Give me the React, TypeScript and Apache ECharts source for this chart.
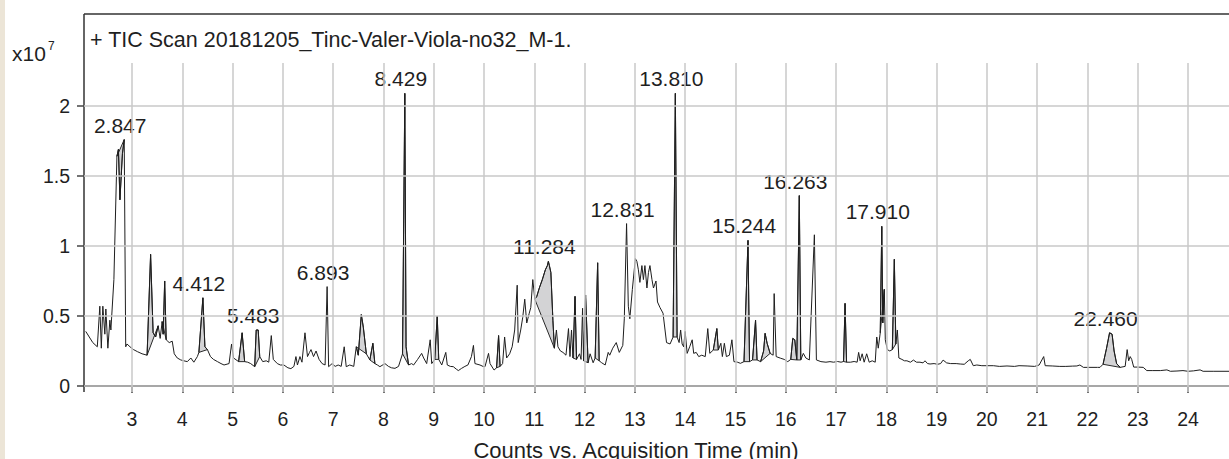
import React, { useEffect, useRef } from "react";
import * as echarts from "echarts";

// TIC trace: [acquisition time (min), counts (x10^7)]
const tic: [number, number][] = [
  [2.08, 0.39], [2.15, 0.35], [2.22, 0.31], [2.31, 0.28], [2.36, 0.57], [2.39, 0.27], [2.42, 0.57], [2.46, 0.37],
  [2.48, 0.55], [2.52, 0.27], [2.56, 0.47], [2.58, 0.40], [2.64, 0.76], [2.70, 1.64], [2.73, 1.69], [2.76, 1.33],
  [2.81, 1.66], [2.845, 1.76], [2.875, 0.28], [2.90, 0.30], [2.96, 0.28], [3.03, 0.26], [3.11, 0.245], [3.20, 0.23],
  [3.30, 0.22], [3.37, 0.94], [3.42, 0.38], [3.47, 0.35], [3.52, 0.43], [3.56, 0.34], [3.60, 0.46], [3.62, 0.37],
  [3.65, 0.75], [3.68, 0.33], [3.74, 0.31], [3.80, 0.32], [3.84, 0.23], [3.90, 0.20], [3.97, 0.186], [4.03, 0.18],
  [4.10, 0.174], [4.17, 0.20], [4.23, 0.17], [4.30, 0.21], [4.33, 0.24], [4.41, 0.63], [4.45, 0.28], [4.50, 0.26],
  [4.56, 0.21], [4.62, 0.19], [4.70, 0.174], [4.77, 0.16], [4.83, 0.15], [4.93, 0.16], [4.98, 0.30], [5.02, 0.20],
  [5.12, 0.174], [5.19, 0.38], [5.24, 0.174], [5.30, 0.17], [5.36, 0.16], [5.44, 0.138], [5.47, 0.40], [5.51, 0.40],
  [5.54, 0.21], [5.60, 0.174], [5.67, 0.18], [5.72, 0.17], [5.77, 0.36], [5.81, 0.19], [5.89, 0.16], [5.95, 0.15],
  [6.02, 0.15], [6.10, 0.13], [6.16, 0.124], [6.22, 0.14], [6.26, 0.21], [6.29, 0.15], [6.34, 0.21], [6.38, 0.17],
  [6.44, 0.38], [6.49, 0.21], [6.53, 0.24], [6.56, 0.26], [6.61, 0.21], [6.66, 0.25], [6.72, 0.19], [6.78, 0.16],
  [6.84, 0.15], [6.88, 0.71], [6.91, 0.138], [6.98, 0.16], [7.04, 0.14], [7.10, 0.15], [7.16, 0.14], [7.22, 0.28],
  [7.26, 0.138], [7.33, 0.15], [7.41, 0.14], [7.46, 0.28], [7.50, 0.22], [7.56, 0.51], [7.60, 0.42], [7.66, 0.23],
  [7.73, 0.186], [7.79, 0.305], [7.83, 0.16], [7.88, 0.15], [7.93, 0.138], [8.03, 0.16], [8.10, 0.14], [8.16, 0.13],
  [8.23, 0.126], [8.30, 0.14], [8.38, 0.23], [8.425, 2.09], [8.45, 0.28], [8.50, 0.15], [8.56, 0.16], [8.60, 0.15],
  [8.68, 0.19], [8.76, 0.233], [8.80, 0.20], [8.86, 0.16], [8.93, 0.33], [8.96, 0.16], [9.02, 0.19], [9.07, 0.50],
  [9.10, 0.19], [9.16, 0.15], [9.24, 0.24], [9.27, 0.15], [9.33, 0.14], [9.39, 0.138], [9.45, 0.12], [9.49, 0.11],
  [9.55, 0.125], [9.62, 0.14], [9.68, 0.15], [9.75, 0.21], [9.79, 0.29], [9.82, 0.16], [9.92, 0.15], [9.98, 0.14],
  [10.02, 0.138], [10.09, 0.233], [10.12, 0.16], [10.20, 0.114], [10.25, 0.13], [10.29, 0.36], [10.32, 0.14], [10.37, 0.16],
  [10.41, 0.35], [10.45, 0.20], [10.51, 0.23], [10.56, 0.28], [10.61, 0.40], [10.66, 0.72], [10.68, 0.31], [10.73, 0.40],
  [10.77, 0.49], [10.81, 0.62], [10.85, 0.45], [10.90, 0.52], [10.93, 0.56], [10.97, 0.76], [11.01, 0.62], [11.05, 0.64],
  [11.10, 0.70], [11.16, 0.76], [11.22, 0.83], [11.26, 0.86], [11.28, 0.89], [11.30, 0.86], [11.33, 0.81], [11.37, 0.47],
  [11.40, 0.27], [11.44, 0.40], [11.47, 0.28], [11.52, 0.25], [11.57, 0.24], [11.63, 0.22], [11.68, 0.41], [11.71, 0.21],
  [11.74, 0.40], [11.77, 0.20], [11.81, 0.64], [11.84, 0.19], [11.90, 0.23], [11.93, 0.19], [11.96, 0.555], [11.98, 0.18],
  [12.02, 0.65], [12.07, 0.166], [12.11, 0.23], [12.17, 0.166], [12.21, 0.20], [12.26, 0.88], [12.29, 0.18], [12.34, 0.166],
  [12.41, 0.15], [12.47, 0.24], [12.50, 0.22], [12.56, 0.27], [12.63, 0.31], [12.69, 0.24], [12.76, 0.29], [12.79, 0.48],
  [12.835, 1.16], [12.87, 0.57], [12.90, 0.48], [12.95, 0.69], [13.01, 0.91], [13.04, 0.89], [13.07, 0.83], [13.10, 0.74],
  [13.14, 0.86], [13.17, 0.76], [13.20, 0.86], [13.24, 0.70], [13.27, 0.81], [13.30, 0.86], [13.34, 0.76], [13.37, 0.70],
  [13.42, 0.75], [13.45, 0.60], [13.50, 0.56], [13.56, 0.52], [13.63, 0.31], [13.70, 0.30], [13.76, 0.35], [13.805, 2.09],
  [13.84, 0.35], [13.88, 0.31], [13.91, 0.40], [13.94, 0.30], [13.97, 0.28], [14.00, 0.39], [14.04, 0.233], [14.09, 0.28],
  [14.14, 0.33], [14.17, 0.233], [14.22, 0.24], [14.27, 0.21], [14.33, 0.22], [14.40, 0.21], [14.45, 0.41], [14.49, 0.233],
  [14.56, 0.257], [14.63, 0.41], [14.66, 0.257], [14.71, 0.305], [14.74, 0.21], [14.78, 0.305], [14.82, 0.21], [14.88, 0.22],
  [14.93, 0.33], [14.97, 0.174], [15.04, 0.17], [15.10, 0.162], [15.17, 0.174], [15.25, 1.04], [15.28, 0.174], [15.34, 0.186],
  [15.40, 0.47], [15.43, 0.186], [15.50, 0.174], [15.56, 0.25], [15.59, 0.376], [15.63, 0.305], [15.69, 0.233], [15.75, 0.22],
  [15.77, 0.66], [15.81, 0.21], [15.90, 0.198], [15.97, 0.19], [16.04, 0.174], [16.10, 0.19], [16.14, 0.34], [16.18, 0.33],
  [16.22, 0.186], [16.27, 1.36], [16.30, 0.186], [16.35, 0.233], [16.40, 0.20], [16.47, 0.186], [16.57, 1.08], [16.61, 0.186],
  [16.70, 0.174], [16.80, 0.17], [16.88, 0.174], [16.95, 0.17], [17.03, 0.175], [17.10, 0.17], [17.15, 0.175], [17.18, 0.59],
  [17.21, 0.17], [17.29, 0.17], [17.36, 0.175], [17.42, 0.17], [17.45, 0.24], [17.48, 0.18], [17.52, 0.23], [17.56, 0.17],
  [17.61, 0.23], [17.66, 0.17], [17.72, 0.18], [17.78, 0.17], [17.81, 0.35], [17.84, 0.27], [17.88, 0.38], [17.91, 1.14],
  [17.93, 0.45], [17.96, 0.69], [17.98, 0.33], [18.02, 0.26], [18.07, 0.25], [18.12, 0.26], [18.16, 0.905], [18.19, 0.30],
  [18.22, 0.40], [18.25, 0.20], [18.31, 0.19], [18.36, 0.18], [18.41, 0.18], [18.48, 0.17], [18.54, 0.185], [18.60, 0.17],
  [18.67, 0.17], [18.73, 0.165], [18.77, 0.18], [18.82, 0.16], [18.87, 0.157], [18.95, 0.16], [19.02, 0.155], [19.08, 0.16],
  [19.13, 0.185], [19.20, 0.165], [19.28, 0.16], [19.39, 0.16], [19.47, 0.157], [19.55, 0.155], [19.63, 0.18], [19.67, 0.19],
  [19.73, 0.145], [19.80, 0.15], [19.90, 0.145], [20.00, 0.145], [20.13, 0.145], [20.25, 0.14], [20.40, 0.143], [20.55, 0.14],
  [20.64, 0.145], [20.80, 0.143], [20.95, 0.14], [21.04, 0.15], [21.13, 0.21], [21.16, 0.145], [21.30, 0.143], [21.45, 0.14],
  [21.57, 0.14], [21.70, 0.142], [21.79, 0.143], [21.85, 0.15], [21.92, 0.133], [22.05, 0.133], [22.20, 0.133], [22.25, 0.133],
  [22.31, 0.155], [22.38, 0.27], [22.44, 0.38], [22.49, 0.37], [22.53, 0.25], [22.58, 0.16], [22.65, 0.133], [22.75, 0.14],
  [22.79, 0.26], [22.82, 0.18], [22.85, 0.21], [22.88, 0.19], [22.92, 0.135], [23.00, 0.135], [23.11, 0.133], [23.18, 0.11],
  [23.30, 0.11], [23.45, 0.11], [23.58, 0.115], [23.65, 0.105], [23.78, 0.107], [23.90, 0.11], [24.00, 0.105], [24.11, 0.108],
  [24.24, 0.115], [24.30, 0.105], [24.50, 0.105], [24.82, 0.105],
];

// integrated (shaded) peak windows [start, end] in minutes
const integrationWindows: [number, number][] = [
  [2.70, 2.845], [3.30, 3.52], [3.60, 3.68], [4.33, 4.50], [5.12, 5.24], [5.44, 5.54], [7.46, 7.66], [7.73, 7.83],
  [8.38, 8.50], [9.02, 9.10], [10.25, 10.32], [11.01, 11.40], [11.77, 11.84], [11.98, 12.07], [12.21, 12.29],
  [13.76, 13.84], [14.56, 14.66], [15.17, 15.28], [15.34, 15.43], [15.50, 15.69], [16.10, 16.22], [16.22, 16.30],
  [17.15, 17.21], [17.88, 17.96], [18.12, 18.19], [22.31, 22.65],
];

// labelled peaks
const peakLabels = ["2.847", "4.412", "5.483", "6.893", "8.429", "11.284", "12.831", "13.810", "15.244", "16.263", "17.910", "22.460"];
const peakTimes = [2.845, 4.41, 5.49, 6.88, 8.425, 11.28, 12.835, 13.805, 15.25, 16.27, 17.91, 22.44];
const peakHeights = [1.76, 0.63, 0.40, 0.71, 2.09, 0.89, 1.16, 2.09, 1.04, 1.36, 1.14, 0.38];

const xTicks = [3, 4, 5, 6, 7, 8, 9, 10, 11, 12, 13, 14, 15, 16, 17, 18, 19, 20, 21, 22, 23, 24];
const yTicks = [0, 0.5, 1, 1.5, 2];

const X_MIN = 2.0455;
const X_MAX = 24.815;
const Y_MIN = -0.0429;
const Y_MAX = 2.307;

const FONT = "'Liberation Sans', Arial, Helvetica, sans-serif";
const TEXT = "#1f1f1f";

export default function App() {
  const ref = useRef<HTMLDivElement>(null);

  useEffect(() => {
    if (!ref.current) return;
    const chart = echarts.init(ref.current, null, { renderer: "svg" });

    chart.setOption({
      animation: false,
      backgroundColor: "#ffffff",
      textStyle: { fontFamily: FONT },
      grid: { left: 84, right: 0, top: 63, bottom: 67, containLabel: false },
      xAxis: {
        type: "value",
        min: X_MIN,
        max: X_MAX,
        axisLine: { show: true, lineStyle: { color: "#444444", width: 2 } },
        axisTick: { show: true, length: 7, customValues: xTicks, lineStyle: { color: "#444444", width: 1.5 } },
        axisLabel: { customValues: xTicks, fontSize: 19.5, color: TEXT, margin: 17, fontFamily: FONT },
        splitLine: { show: false },
      },
      yAxis: {
        type: "value",
        min: Y_MIN,
        max: Y_MAX,
        axisLine: { show: false },
        axisTick: { show: true, length: 7, customValues: yTicks, lineStyle: { color: "#444444", width: 1.5 } },
        axisLabel: { customValues: yTicks, fontSize: 19.5, color: TEXT, margin: 14, fontFamily: FONT },
        splitLine: { show: false },
      },
      graphic: [
        { type: "rect", shape: { x: 0, y: 0, width: 5, height: 459 }, style: { fill: "#ece5d7" }, silent: true },
        { type: "line", shape: { x1: 84, y1: 14, x2: 84, y2: 392 }, style: { stroke: "#333333", lineWidth: 1.5 }, silent: true },
        { type: "line", shape: { x1: 84, y1: 14, x2: 1229, y2: 14 }, style: { stroke: "#333333", lineWidth: 1.5 }, silent: true },
        {
          type: "text", x: 90, y: 40,
          style: { text: "+ TIC Scan 20181205_Tinc-Valer-Viola-no32_M-1.", fontSize: 21.5, fontFamily: FONT, fill: TEXT, verticalAlign: "middle", align: "left" },
        },
        { type: "text", x: 12, y: 53, style: { text: "x10", fontSize: 21, fontFamily: FONT, fill: TEXT, verticalAlign: "middle", align: "left" } },
        { type: "text", x: 48, y: 46, style: { text: "7", fontSize: 12, fontFamily: FONT, fill: TEXT, verticalAlign: "middle", align: "left" } },
        {
          type: "text", x: 636, y: 450,
          style: { text: "Counts vs. Acquisition Time (min)", fontSize: 22, fontFamily: FONT, fill: TEXT, verticalAlign: "middle", align: "center" },
        },
      ],
      series: [
        {
          type: "line",
          data: [],
          silent: true,
          z: 1,
          markLine: {
            silent: true,
            symbol: ["none", "none"],
            label: { show: false },
            lineStyle: { color: "#c8c8c8", width: 1.5, type: "solid" },
            data: [
              ...yTicks.map((v) => ({ yAxis: v })),
              ...xTicks.map((v) => ({ xAxis: v })),
            ],
          },
        },
        {
          type: "custom",
          z: 2,
          silent: true,
          data: integrationWindows.map((w) => [w[0], w[1]]),
          encode: { x: [0, 1] },
          renderItem: (params: any, api: any) => {
            const w = integrationWindows[params.dataIndex];
            const pts = tic
              .filter((p) => p[0] >= w[0] - 1e-9 && p[0] <= w[1] + 1e-9)
              .map((p) => api.coord(p));
            return {
              type: "polygon",
              shape: { points: pts },
              style: { fill: "#d3d3d5", stroke: "#2a2a2a", lineWidth: 1 },
            };
          },
        },
        {
          type: "line",
          z: 3,
          data: tic,
          showSymbol: false,
          symbol: "none",
          silent: true,
          lineStyle: { color: "#1e1e1e", width: 1 },
        },
        {
          type: "scatter",
          z: 4,
          silent: true,
          symbolSize: 0,
          itemStyle: { opacity: 1 },
          data: peakTimes.map((t, i) => ({ value: [t, peakHeights[i]], name: peakLabels[i] })),
          label: {
            show: true,
            position: "top",
            distance: 4,
            offset: [-4, 0],
            formatter: "{b}",
            fontSize: 21,
            color: TEXT,
            opacity: 1,
            fontFamily: FONT,
          },
        },
      ],
    });

    return () => chart.dispose();
  }, []);

  return (
    <div
      ref={ref}
      style={{ position: "fixed", left: 0, top: 0, width: 1229, height: 459, background: "#fff" }}
    />
  );
}
